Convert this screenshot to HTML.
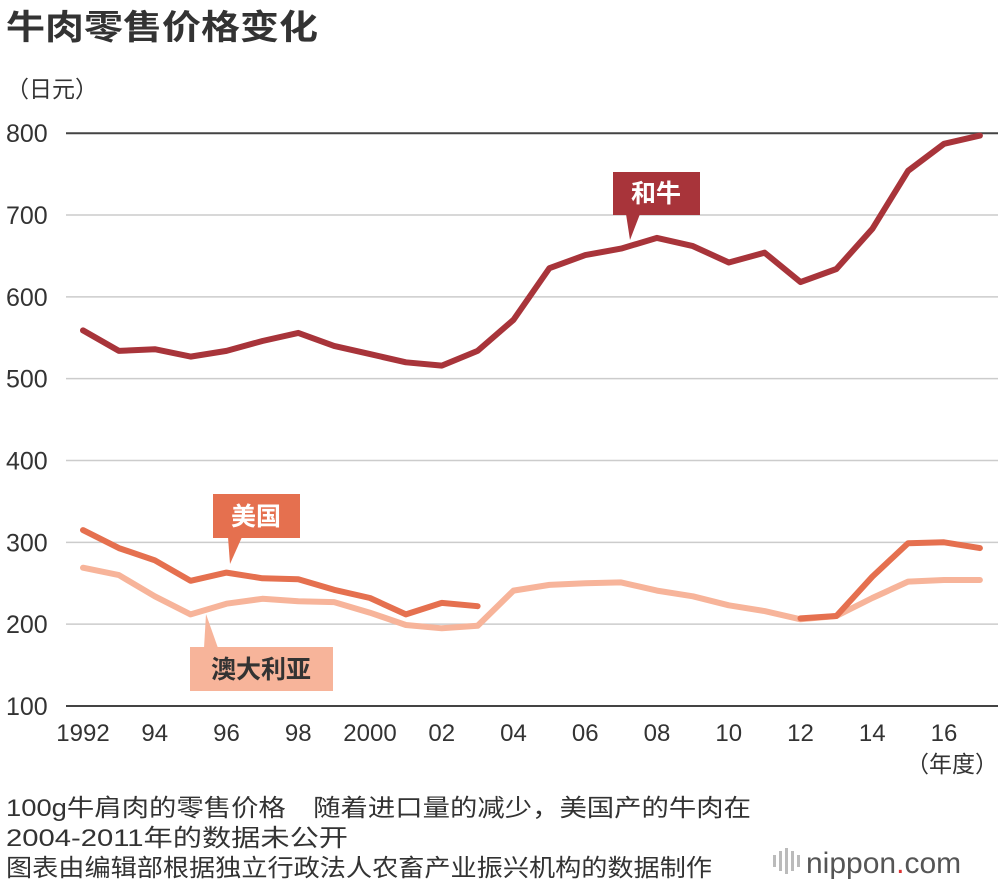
<!DOCTYPE html>
<html><head><meta charset="utf-8"><style>
body{margin:0;width:1000px;height:886px;background:#fff;overflow:hidden;font-family:"Liberation Sans","Noto Sans CJK SC",sans-serif;color:#333}
svg text{font-family:"Liberation Sans","Noto Sans CJK SC",sans-serif}
</style></head><body>
<svg width="1000" height="886">
<text x="6" y="39" font-size="34" font-weight="bold" fill="#333" textLength="312" lengthAdjust="spacingAndGlyphs">牛肉零售价格变化</text>
<text x="6" y="97" font-size="23" fill="#333">（日元）</text>
<g id="grid"></g><g id="xt"></g><g id="lines"></g>
<text x="998" y="772" font-size="23" text-anchor="end" fill="#333">（年度）</text>
<g><rect x="613" y="172" width="87" height="43" fill="#a8343a"/><polygon points="626,214 640,214 630,240" fill="#a8343a"/><text x="656" y="202" font-size="25" font-weight="bold" fill="#fff" text-anchor="middle">和牛</text></g>
<g><rect x="213" y="494" width="87" height="44" fill="#e5704f"/><polygon points="228,537 242,537 230,564" fill="#e5704f"/><text x="256" y="525" font-size="25" font-weight="bold" fill="#fff" text-anchor="middle">美国</text></g>
<g><rect x="190" y="647" width="143" height="44" fill="#f7b49a"/><polygon points="204,648 218,648 206,614" fill="#f7b49a"/><text x="261" y="678" font-size="25" font-weight="bold" fill="#333" text-anchor="middle">澳大利亚</text></g>
<text x="6" y="816" font-size="24" fill="#333" textLength="745" lengthAdjust="spacingAndGlyphs">100g牛肩肉的零售价格　随着进口量的减少，美国产的牛肉在</text>
<text x="6" y="846" font-size="24" fill="#333" textLength="342" lengthAdjust="spacingAndGlyphs">2004-2011年的数据未公开</text>
<text x="6" y="876" font-size="24" fill="#333" textLength="706" lengthAdjust="spacingAndGlyphs">图表由编辑部根据独立行政法人农畜产业振兴机构的数据制作</text>
<g><g fill="#bbb"><rect x="773" y="855" width="3" height="12"/><rect x="779" y="851" width="3" height="20"/><rect x="785" y="848" width="3" height="26"/><rect x="791" y="851" width="3" height="20"/><rect x="797" y="855" width="3" height="12"/></g><text x="806" y="873" font-size="30" fill="#555">nippon<tspan fill="#d33">.</tspan>com</text></g>
</svg>
<script>
const years=[1992,1993,1994,1995,1996,1997,1998,1999,2000,2001,2002,2003,2004,2005,2006,2007,2008,2009,2010,2011,2012,2013,2014,2015,2016,2017];
const wagyu=[559,534,536,527,534,546,556,540,530,520,516,534,572,635,651,659,672,662,642,654,618,634,683,754,787,797];
const us=[315,293,278,253,263,256,255,242,232,212,226,222,null,null,null,null,null,null,null,null,207,210,258,299,300,293];
const aus=[269,260,234,212,225,231,228,227,214,199,195,198,241,248,250,251,241,234,223,216,206,210,232,252,254,254];
const yTicks=[100,200,300,400,500,600,700,800];
const xTickYears=[1992,1994,1996,1998,2000,2002,2004,2006,2008,2010,2012,2014,2016];
const xTickLabels=["1992","94","96","98","2000","02","04","06","08","10","12","14","16"];
const NS='http://www.w3.org/2000/svg';
const X=y=>83+(y-1992)*35.875, Y=v=>706-(v-100)*0.8183;
const grid=document.getElementById('grid');
yTicks.forEach(t=>{
 const l=document.createElementNS(NS,'line');
 
 
 l.setAttribute('x1',66);l.setAttribute('x2',998);l.setAttribute('y1',Y(t));l.setAttribute('y2',Y(t));
 l.setAttribute('stroke',t==800||t==100?'#444':'#ccc');l.setAttribute('stroke-width',t==800||t==100?2:1.5);
 grid.appendChild(l);
 const tx=document.createElementNS(NS,'text');
 
 
 tx.setAttribute('x',6);tx.setAttribute('y',Y(t)+9);tx.setAttribute('font-size',25);tx.setAttribute('fill','#333');
 tx.textContent=t;grid.appendChild(tx);
});
const xt=document.getElementById('xt');
xTickYears.forEach((yr,i)=>{
 const tx=document.createElementNS(NS,'text');
 
 
 tx.setAttribute('x',X(yr));tx.setAttribute('y',741);tx.setAttribute('font-size',24);tx.setAttribute('fill','#333');tx.setAttribute('text-anchor','middle');
 tx.textContent=xTickLabels[i];xt.appendChild(tx);
});
function draw(vals,color,name){
 let d='',pen=false;
 vals.forEach((v,i)=>{if(v==null){pen=false;return;}d+=(pen?'L':'M')+X(years[i]).toFixed(1)+','+Y(v).toFixed(1);pen=true;});
 const p=document.createElementNS(NS,'path');
 
 
 p.setAttribute('d',d);p.setAttribute('fill','none');p.setAttribute('stroke',color);p.setAttribute('stroke-width',6);p.setAttribute('stroke-linejoin','round');p.setAttribute('stroke-linecap','round');
 document.getElementById('lines').appendChild(p);
}
draw(aus,'#f7b49a','line-australia');
draw(us,'#e5704f','line-us');
draw(wagyu,'#a8343a','line-wagyu');
</script>
</body></html>
